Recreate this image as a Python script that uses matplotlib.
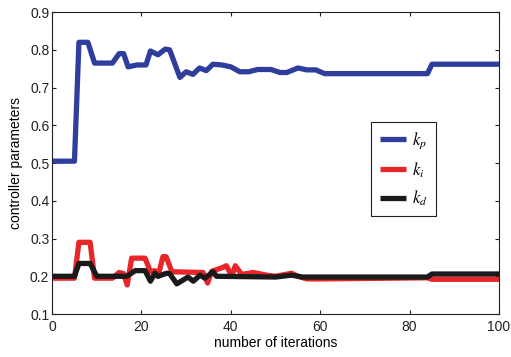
import matplotlib
matplotlib.use("Agg")
import matplotlib.pyplot as plt

plt.rcParams['font.family'] = ['Liberation Sans', 'DejaVu Sans']
plt.rcParams['mathtext.fontset'] = 'stix'

# ------------- data -------------
x_kp = [0, 5, 6, 8, 9.5, 13.5, 15, 16, 17, 19, 21, 22, 23.7, 25.3, 26.3, 28.6, 30, 31.5,
        33, 34.5, 36, 38, 40, 42, 44, 46, 49, 51, 52.5, 55, 57, 59, 61, 84, 85, 100]
kp = [0.505, 0.505, 0.82, 0.82, 0.765, 0.765, 0.79, 0.79, 0.755, 0.76, 0.76, 0.797, 0.787,
      0.802, 0.8, 0.727, 0.742, 0.735, 0.752, 0.745, 0.762, 0.76, 0.755, 0.742, 0.742, 0.748,
      0.748, 0.740, 0.740, 0.752, 0.747, 0.747, 0.737, 0.737, 0.762, 0.762]

x_ki = [0, 5, 6, 8.5, 9.5, 13.5, 15, 16, 16.8, 17.8, 20.8, 22, 23, 23.7, 24.8, 25.5, 26.8,
        33.8, 34.8, 35.7, 38.3, 39, 40.2, 41, 42.4, 45, 48, 50, 53.6, 55, 57, 60, 84, 85, 100]
ki = [0.195, 0.195, 0.29, 0.29, 0.195, 0.195, 0.21, 0.207, 0.177, 0.248, 0.248, 0.212, 0.215,
      0.2, 0.252, 0.252, 0.212, 0.21, 0.182, 0.213, 0.224, 0.228, 0.2, 0.228, 0.205, 0.21,
      0.203, 0.2, 0.208, 0.2, 0.193, 0.193, 0.196, 0.192, 0.192]

x_kd = [0, 5, 6, 8.5, 10, 16.7, 18.6, 20.8, 22, 23, 23.7, 25.6, 26.3, 27.9, 29.3, 30.4, 31.6,
        33.1, 34.2, 36, 36.8, 50, 53.6, 56, 84, 85, 100]
kd = [0.2, 0.2, 0.234, 0.234, 0.2, 0.2, 0.215, 0.215, 0.187, 0.208, 0.2, 0.208, 0.207, 0.18,
      0.19, 0.198, 0.187, 0.203, 0.195, 0.212, 0.2, 0.198, 0.203, 0.198, 0.198, 0.206, 0.206]

x_ticks = [0, 20, 40, 60, 80, 100]
y_ticks = [0.1, 0.2, 0.3, 0.4, 0.5, 0.6, 0.7, 0.8, 0.9]
# -------------------------------------------------------

fig = plt.figure(figsize=(5.11, 3.57), dpi=100)
ax = fig.add_axes([0.102, 0.1204, 0.8745, 0.8456])

lw = 3.8
style = dict(lw=lw, solid_joinstyle='round', solid_capstyle='butt')
ax.plot(x_kp, kp, color='#2f3d9c', label=r'$k_p$', **style)
ax.plot(x_ki, ki, color='#e8262a', label=r'$k_i$', **style)
ax.plot(x_kd, kd, color='#1a1a1a', label=r'$k_d$', **style)

ax.set_xlim(0, 100)
ax.set_ylim(0.1, 0.9)
ax.set_xticks(x_ticks)
ax.set_yticks(y_ticks)
ax.set_yticklabels([f'{v:g}' for v in y_ticks])
ax.tick_params(direction='in', length=3, width=0.8, top=True, right=True,
               labelsize=10, colors='#222222')
ax.tick_params(axis='x', pad=4)
ax.tick_params(axis='y', pad=2)
for s in ax.spines.values():
    s.set_linewidth(0.8)
    s.set_color('#222222')

ax.set_xlabel('number of iterations', fontsize=10, labelpad=2)
ax.set_ylabel('controller parameters', fontsize=10, labelpad=5)

leg = ax.legend(loc='upper left', bbox_to_anchor=(0.714, 0.636), fancybox=False,
                edgecolor='#222222', framealpha=1, fontsize=12, handlelength=1.6,
                labelspacing=0.55, borderpad=0.5, handletextpad=0.35, borderaxespad=0)
leg.get_frame().set_linewidth(0.8)

plt.savefig('out.png', dpi=100)
